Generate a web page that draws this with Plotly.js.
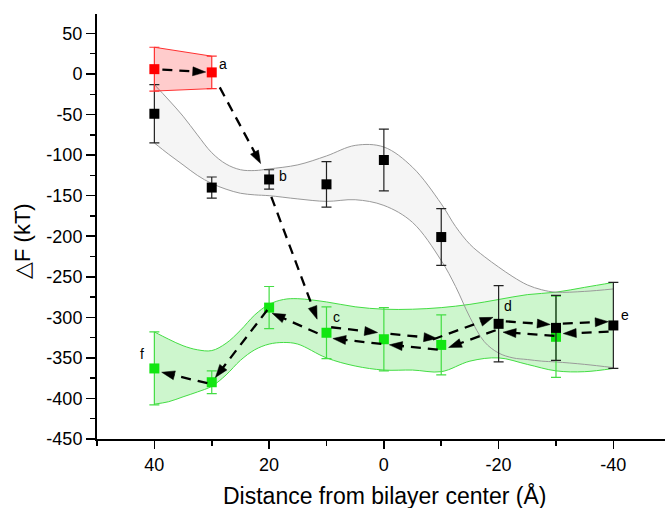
<!DOCTYPE html>
<html><head><meta charset="utf-8">
<script src="https://cdn.plot.ly/plotly-3.0.1.min.js"></script>
<style>html,body{margin:0;padding:0;background:#fff}</style>
</head><body><div id="chart" style="width:665px;height:508px"></div>
<script>
// ---- data ----
const blackX = [40, 30, 20, 10, 0, -10, -20, -30, -40];
const blackY = [-49, -140, -130, -136, -106, -201, -308, -313, -310];
const blackErr = [36, 13, 12, 28, 38, 35, 47, 40, 53];

const greenX = [40, 30, 20, 10, 0, -10, -30];
const greenY = [-363, -380, -288, -319, -327, -334, -324];
const greenErr = [45, 14, 26, 32, 39, 37, 50];

const redX = [40, 30];
const redY = [6, 2];
const redErr = [27, 20];

const grayBandX = [40, 37.5, 35, 32.5, 30, 27.5, 25, 22.5, 20, 15, 10, 5, 0, -5, -10, -12.5, -15, -17.5, -20, -22.5, -25, -27.5, -30, -35, -40];
const grayUpper = [-13, -32, -52, -75, -97, -111, -118, -119, -117, -112, -101, -88, -90, -115, -160, -188, -210, -225, -238, -250, -260, -266, -269, -268, -265];
const grayLower = [-85, -99, -112, -125, -135, -142, -147, -149, -150, -154, -157, -155, -162, -183, -230, -262, -300, -330, -344, -350, -352, -354, -355, -358, -362];

const greenBandX = [40, 37.5, 35, 32.5, 30, 27.5, 25, 22.5, 20, 17.5, 15, 10, 5, 0, -5, -10, -15, -20, -25, -30, -35, -40];
const greenUpper = [-318, -327, -335, -340, -341, -332, -316, -297, -284, -278, -277, -281, -287, -290, -290, -288, -284, -278, -272, -269, -263, -257];
const greenLower = [-407, -404, -398, -392, -385, -371, -353, -340, -333, -331, -333, -350, -360, -365, -365, -367, -354, -350, -358, -366, -367, -363];

const xTickVals = [40, 20, 0, -20, -40];
const yTickVals = [50, 0, -50, -100, -150, -200, -250, -300, -350, -400, -450];
const pointLabels = [
  {s: 'red', x: 30, t: 'a', dx: 11, dy: 8},
  {s: 'black', x: 20, t: 'b', dx: 14, dy: 3},
  {s: 'green', x: 10, t: 'c', dx: 10, dy: 16},
  {s: 'black', x: -20, t: 'd', dx: 9, dy: 18},
  {s: 'black', x: -40, t: 'e', dx: 12, dy: 10},
  {s: 'green', x: 40, t: 'f', dx: -12, dy: 14}
];
// path of the arrows (series, x)
const arrowPath = [
  {a: ['red', 40], b: ['red', 30], up: 0, s0: 8, s1: 6},
  {a: ['red', 30], b: ['black', 20], up: 0, s0: 17, s1: 18},
  {a: ['black', 20], b: ['green', 10], up: -4, s0: 17, s1: 16},
  {a: ['green', 10], b: ['green', 0], up: 6, s0: 4, s1: 7},
  {a: ['green', 0], b: ['green', -10], up: 6, s0: 6, s1: 5},
  {a: ['green', -10], b: ['black', -20], up: 8, s0: -6, s1: 3},
  {a: ['black', -20], b: ['black', -30], up: 3, s0: 7, s1: 6},
  {a: ['black', -30], b: ['black', -40], up: 4, s0: 7, s1: 5},
  {a: ['black', -40], b: ['black', -30], up: -6, s0: 5, s1: 7},
  {a: ['black', -30], b: ['black', -20], up: -8, s0: 1, s1: 5},
  {a: ['black', -20], b: ['green', -10], up: -5, s0: 5, s1: 6},
  {a: ['green', -10], b: ['green', 0], up: -5, s0: 3, s1: 6},
  {a: ['green', 0], b: ['green', 10], up: -5, s0: 2, s1: 7},
  {a: ['green', 10], b: ['green', 20], up: -4, s0: 8, s1: 5},
  {a: ['green', 20], b: ['green', 30], up: 0, s0: 3, s1: 6},
  {a: ['green', 30], b: ['green', 40], up: -2, s0: 4, s1: 8}
];

// ---- layout geometry ----
const M = {l: 97, r: 0, t: 14, b: 69};
const WIDTH = 665, HEIGHT = 508;
const XR = [50, -49], YR = [-450, 74];
const PW = WIDTH - M.l - M.r, PH = HEIGHT - M.t - M.b;
const px = x => M.l + (x - XR[0]) / (XR[1] - XR[0]) * PW;
const py = y => M.t + (YR[1] - y) / (YR[1] - YR[0]) * PH;
const dx = p => XR[0] + (p - M.l) / PW * (XR[1] - XR[0]);
const dy = p => YR[1] - (p - M.t) / PH * (YR[1] - YR[0]);

const SER = {red: [redX, redY], black: [blackX, blackY], green: [greenX, greenY]};
function nodeVal(s, x) { const [X, Y] = SER[s]; return Y[X.indexOf(x)]; }
function nodePx(n) { return [px(n[1]), py(nodeVal(n[0], n[1]))]; }

const traces = [];
function band(x, y, color, fill, fillcolor, shape, w) {
  return {x, y, type: 'scatter', mode: 'lines', hoverinfo: 'skip',
    line: {color, width: w === undefined ? 1 : w, shape: shape || 'spline', smoothing: 1},
    fill: fill || 'none', fillcolor: fillcolor};
}
const GRAYL = '#9a9a9a', GREENL = '#44dd44';
// gray band fill
traces.push(band(grayBandX, grayLower, 'rgba(0,0,0,0)', null, null, null, 0));
traces.push(band(grayBandX, grayUpper, 'rgba(0,0,0,0)', 'tonexty', '#f5f5f5', null, 0));
// green band
traces.push(band(greenBandX, greenLower, GREENL));
traces.push(band(greenBandX, greenUpper, GREENL, 'tonexty', 'rgb(205,246,205)'));
// gray band outlines over the green fill
traces.push(band(grayBandX, grayLower, GRAYL));
traces.push(band(grayBandX, grayUpper, GRAYL));
// red band
traces.push(band(redX, redY.map((v, i) => v - redErr[i]), '#ff3030', null, null, 'linear'));
traces.push(band(redX, redY.map((v, i) => v + redErr[i]), '#ff3030', 'tonexty', 'rgba(255,0,0,0.2)', 'linear'));

function pts(x, y, err, color, ecolor) {
  return {x, y, type: 'scatter', mode: 'markers',
    marker: {symbol: 'square', size: 10, color, line: {width: 0}},
    error_y: {type: 'data', array: err, visible: true, color: ecolor, thickness: 1.2, width: 5}};
}
traces.push(pts(greenX, greenY, greenErr, '#12e612', GREENL));
traces.push(pts(blackX, blackY, blackErr, '#000000', '#222222'));
traces.push(pts(redX, redY, redErr, '#ff0000', '#ff3030'));

// ---- arrows as shapes ----
const shapes = [];
const HEAD_L = 13, HEAD_W = 4.5;
arrowPath.forEach(ar => {
  const A = nodePx(ar.a), B = nodePx(ar.b);
  let ux = B[0] - A[0], uy = B[1] - A[1];
  const len = Math.hypot(ux, uy); ux /= len; uy /= len;
  let nx = uy, ny = -ux; if (ny > 0) { nx = -nx; ny = -ny; }
  const ox = nx * ar.up, oy = ny * ar.up;
  const sx = A[0] + ox + ux * ar.s0, sy = A[1] + oy + uy * ar.s0;
  const tx = B[0] + ox - ux * ar.s1, ty = B[1] + oy - uy * ar.s1;
  const bx = tx - ux * (HEAD_L - 2), by = ty - uy * (HEAD_L - 2);
  shapes.push({type: 'line', xref: 'x', yref: 'y', x0: dx(sx), y0: dy(sy), x1: dx(bx), y1: dy(by),
    line: {color: '#000', width: 2.3, dash: '10px,7px'}, layer: 'above'});
  const hx = tx - ux * HEAD_L, hy = ty - uy * HEAD_L;
  const p1 = [hx + nx * HEAD_W, hy + ny * HEAD_W], p2 = [hx - nx * HEAD_W, hy - ny * HEAD_W];
  const f = v => v.toFixed(4);
  shapes.push({type: 'path', xref: 'x', yref: 'y', layer: 'above',
    path: 'M' + f(dx(tx)) + ',' + f(dy(ty)) + 'L' + f(dx(p1[0])) + ',' + f(dy(p1[1])) + 'L' + f(dx(p2[0])) + ',' + f(dy(p2[1])) + 'Z',
    fillcolor: '#000', line: {color: '#000', width: 0.5}});
});

const annotations = pointLabels.map(l => ({x: l.x, y: nodeVal(l.s, l.x), xref: 'x', yref: 'y', text: l.t,
  showarrow: false, xshift: l.dx, yshift: l.dy, font: {size: 14, color: '#000'}, xanchor: 'center', yanchor: 'middle'}));
annotations.push({xref: 'paper', yref: 'paper', x: (22 - M.l) / PW, y: (HEIGHT - M.b - 241) / PH,
  text: '△F (kT)', textangle: -90, showarrow: false, font: {size: 22, color: '#000'}, xanchor: 'center', yanchor: 'middle'});
annotations.push({xref: 'paper', yref: 'paper', x: (384 - M.l) / PW, y: (HEIGHT - M.b - 495) / PH,
  text: 'Distance from bilayer center (Å)', showarrow: false, font: {size: 23, color: '#000'}, xanchor: 'center', yanchor: 'middle'});

const layout = {
  width: WIDTH, height: HEIGHT, margin: {l: M.l, r: M.r, t: M.t, b: M.b, pad: 0},
  paper_bgcolor: '#fff', plot_bgcolor: '#fff', showlegend: false,
  font: {family: 'Liberation Sans, Arial, sans-serif', size: 18, color: '#000'},
  xaxis: {range: XR, tickvals: xTickVals, ticktext: xTickVals.map(String), ticks: 'outside', ticklen: 8, tickwidth: 1.5, tickcolor: '#000',
    showline: true, linewidth: 2, linecolor: '#000', showgrid: false, zeroline: false, ticklabelstandoff: 0,
    minor: {dtick: 10, tick0: 0, ticks: 'outside', ticklen: 5, tickwidth: 1.5, tickcolor: '#000', showgrid: false},
    tickfont: {size: 18}},
  yaxis: {range: YR, tickvals: yTickVals, ticktext: yTickVals.map(String), ticks: 'outside', ticklen: 9, tickwidth: 1.5, tickcolor: '#000',
    showline: true, linewidth: 2, linecolor: '#000', showgrid: false, zeroline: false,
    minor: {dtick: 25, tick0: 0, ticks: 'outside', ticklen: 5, tickwidth: 1.5, tickcolor: '#000', showgrid: false},
    tickfont: {size: 18}},
  shapes, annotations
};
Plotly.newPlot('chart', traces, layout, {displayModeBar: false, staticPlot: true});
</script></body></html>
